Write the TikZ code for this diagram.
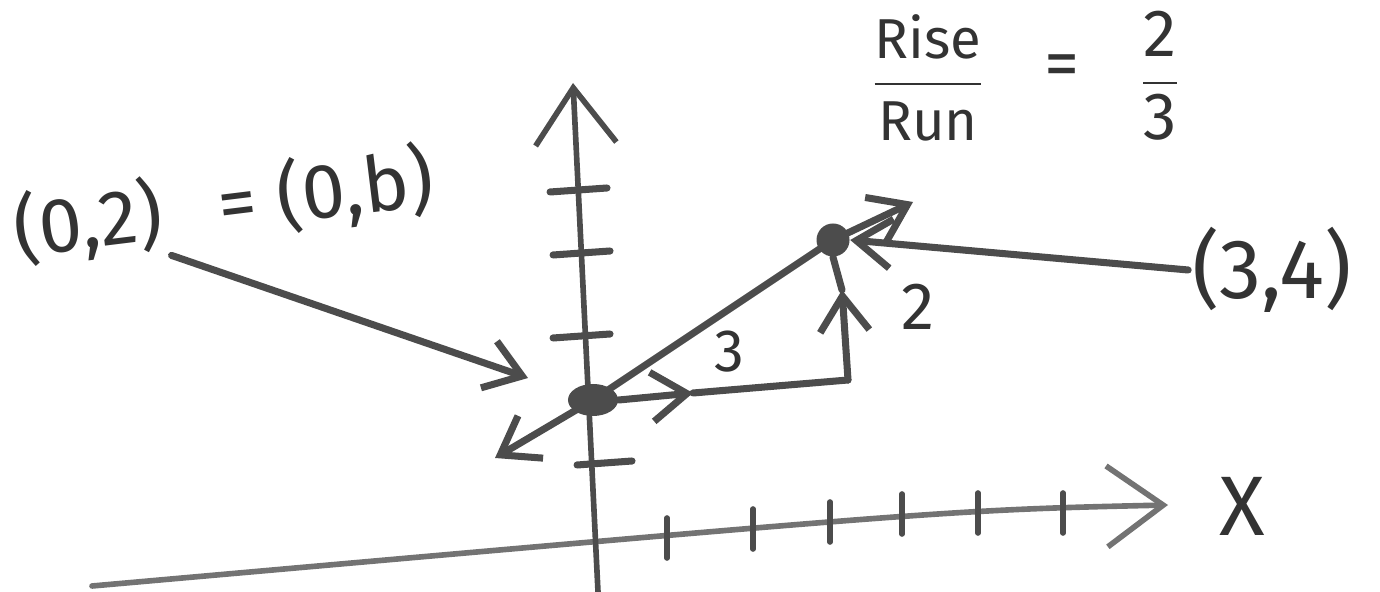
\documentclass[tikz,border=0pt]{standalone}
\usepackage{amsmath}
\usepackage{fontspec}
\setmainfont{Fira Sans}
\usepackage{tikz}
\usetikzlibrary{arrows.meta, shapes.geometric, positioning}
\tikzset{
  pen/.style={draw=black!70, line width=2pt, line cap=round, line join=round},
  axis/.style={pen, draw=black!55, line width=1.6pt},
  axistip/.style={-{Straight Barb[length=16pt, width=23pt]}},
  barb/.style={-{Straight Barb[length=10pt, width=14pt]}},
  dot/.style={ellipse, fill=black!70, inner sep=0pt},
  hand/.style={font=\fontsize{#1}{#1}\selectfont, inner sep=1pt, text=black!80}
}

\begin{document}
\begin{tikzpicture}[x=0.01cm, y=-0.01cm]
  \useasboundingbox (0,0) rectangle (1380,592);

  % axes
  \coordinate (xstart) at (92,586);
  \coordinate (xend) at (1168,505);
  \coordinate (ybot) at (598,592);
  \coordinate (ytop) at (573,83);
  \draw[axis, axistip] (xstart) .. controls (950,510) .. (xend);
  \draw[pen, line width=1.6pt, axistip] (ybot) -- (ytop);
  \node[hand=24] (xlbl) at (1242,506) {X};

  \foreach \tx/\ty in {667/538, 753/529, 830/522, 902/514, 978/513, 1063/513}
    \draw[pen, line width=1.6pt] (\tx,\ty-20) -- (\tx,\ty+20);
  \foreach \ty/\xa/\xb in {192/550/607, 255/553/610, 338/553/610, 465/577/632}
    \draw[pen] (\xa,\ty) -- (\xb,\ty-4);

  % the two points
  \node[dot, minimum width=0.5cm, minimum height=0.32cm] (p02) at (593,400) {};
  \node[dot, minimum width=0.33cm, minimum height=0.33cm] (p34) at (833,240) {};

  % the line
  \coordinate (lowend) at (495,458);
  \coordinate (highend) at (913,202);
  \draw[pen] (p02.center) -- (p34.center);
  \draw[pen, barb] (p02.center) -- (lowend);
  \draw[pen, barb] (p34.center) -- (highend);

  % run and rise
  \coordinate (corner) at (848,380);
  \coordinate (runmid) at (693,393);
  \coordinate (risemid) at (842,290);
  \draw[pen, barb] (p02.east) -- (runmid);
  \draw[pen] (runmid) -- (corner);
  \draw[pen, barb] (corner) -- (risemid);
  \draw[pen] (risemid) -- (p34.south);
  \node[hand=17] (runlbl) at (729,352) {3};
  \node[hand=19] (riselbl) at (918,307) {2};

  % labels
  \node[hand=22, rotate=7] (lbl02) at (88,222) {(0,2)};
  \node[hand=22, rotate=7] (lbleq) at (326,192) {= (0,b)};
  \coordinate (lbltip) at (528,378);
  \draw[pen, barb] (lbl02.south east) -- (lbltip);

  \node[hand=24] (lbl34) at (1272,270) {(3,4)};
  \draw[pen, barb] (lbl34.west) -- (p34.east);

  \node[hand=16] (ratio) at (928,78) {$\dfrac{\text{Rise}}{\text{Run}}$};
  \node[hand=20] (ratioeq) at (1062,71) {=};
  \node[hand=19, inner sep=0pt] (slope) at (1160,76) {$\dfrac{\text{2}}{\text{3}}$};
\end{tikzpicture}
\end{document}
